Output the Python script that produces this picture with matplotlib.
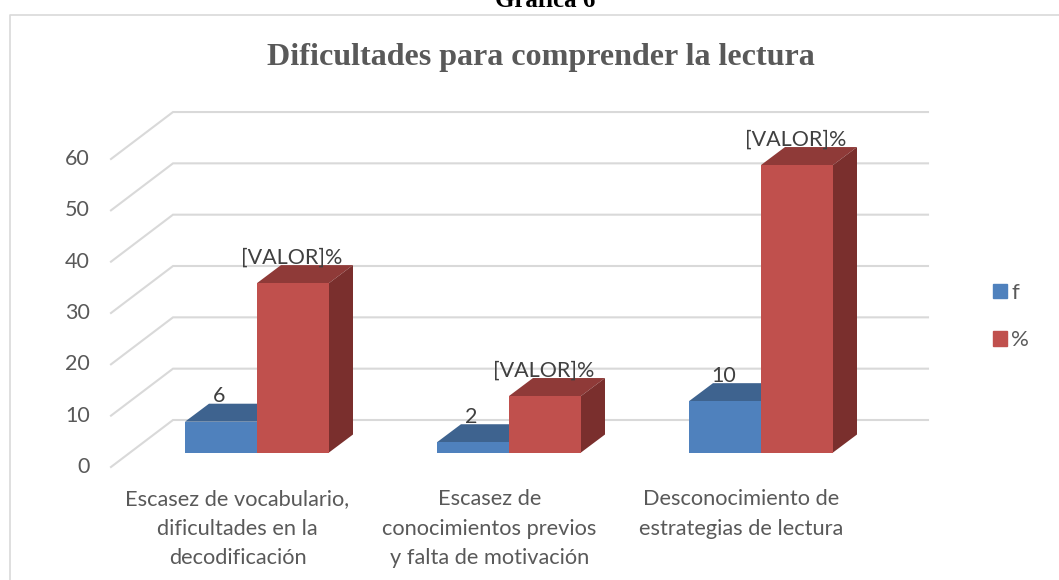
import matplotlib
matplotlib.use("Agg")
import matplotlib.pyplot as plt
from matplotlib.patches import Polygon, Patch

categories = ["Escasez de vocabulario,\ndificultades en la\ndecodificación",
              "Escasez de\nconocimientos previos\ny falta de motivación",
              "Desconocimiento de\nestrategias de lectura"]
f_values = [6, 2, 10]
pct_values = [33, 11, 56]
y_ticks = [0, 10, 20, 30, 40, 50, 60]
series_labels = ["f", "%"]
f_text = ["6", "2", "10"]
pct_text = ["[VALOR]%", "[VALOR]%", "[VALOR]%"]

W, H = 1059, 580
X0, X_STEP = 257, 252      # pixel of category 0, pixels per category
Y0, Y_STEP = 452.5, 5.133  # pixel of value 0 at bar front, pixels per unit


def px_x(p):
    return (p - X0) / X_STEP


def px_y(p):
    return (Y0 - p) / Y_STEP


BAR_W = 72 / X_STEP
DX, DY = 24 / X_STEP, 18 / Y_STEP  # bar depth

plt.rcParams["font.family"] = ["Lato", "DejaVu Sans"]
fig = plt.figure(figsize=(W / 100, H / 100), dpi=100)
ax = fig.add_axes([0, 0, 1, 1])
ax.set_xlim(px_x(0), px_x(W))
ax.set_ylim(px_y(H), px_y(0))
ax.axis("off")

# chart frame, cut by the page on the right and bottom
frame = "#D9D9D9"
ax.plot([9.5 / W, 9.5 / W, 1], [0, 1 - 14.5 / H, 1 - 14.5 / H], transform=ax.transAxes,
        color=frame, lw=1.2, clip_on=False)

# back wall and floor lines
grid = "#D9D9D9"
for v in y_ticks:
    back_y = px_y(420) + v
    front_y = px_y(467) + v
    ax.plot([px_x(111), px_x(173), px_x(928)], [front_y, back_y, back_y],
            color=grid, lw=1.5, zorder=1, solid_joinstyle="miter")
    ax.text(px_x(90), px_y(467) + v, str(v), ha="right", va="center",
            fontsize=15.5, color="#595959")


def draw_bars(values, left_offset, front, top, side, z):
    xs = [i + left_offset for i in range(len(values))]
    ax.bar(xs, values, width=BAR_W, align="edge", color=front, zorder=z + 1)
    for x, v in zip(xs, values):
        ax.add_patch(Polygon([(x, v), (x + DX, v + DY), (x + BAR_W + DX, v + DY), (x + BAR_W, v)],
                             closed=True, facecolor=top, edgecolor="none", zorder=z))
        ax.add_patch(Polygon([(x + BAR_W, 0), (x + BAR_W + DX, DY), (x + BAR_W + DX, v + DY), (x + BAR_W, v)],
                             closed=True, facecolor=side, edgecolor="none", zorder=z))


draw_bars(f_values, -BAR_W, "#4F81BD", "#3E638F", "#345578", 3)
draw_bars(pct_values, 0, "#C0504D", "#8F3A38", "#7A2F2D", 5)

# data labels
for i in range(len(categories)):
    ax.text(i - BAR_W / 2 - 1.5 / X_STEP, f_values[i] + 5.0, f_text[i], ha="center", va="center",
            fontsize=15.5, color="#404040", zorder=8)
    ax.text(i + BAR_W / 2 - 1.5 / X_STEP, pct_values[i] + 4.9, pct_text[i], ha="center", va="center",
            fontsize=15.5, color="#404040", zorder=8)

# category labels
for i, label in enumerate(categories):
    ax.text(i + px_x(237.5) - px_x(257), px_y(489), label, ha="center", va="top",
            fontsize=15.7, color="#595959", linespacing=1.6)

ax.text(px_x(541), px_y(58), "Dificultades para comprender la lectura", ha="center", va="center",
        fontsize=23.1, fontweight="bold", family="Liberation Serif", color="#595959")
ax.text(px_x(545), px_y(7), "Gráfica 6", ha="center", va="baseline",
        fontsize=18, fontweight="bold", family="Liberation Serif", color="black")

handles = [Patch(color="#4F81BD"), Patch(color="#C0504D")]
leg = ax.legend(handles, series_labels, loc="center left", frameon=False,
                bbox_to_anchor=(993 / W, 1 - 316.5 / H), fontsize=16, labelcolor="#595959",
                handlelength=0.63, handleheight=0.63, handletextpad=0.2, labelspacing=1.25,
                borderpad=0, borderaxespad=0)

fig.savefig("out.png", dpi=100)
plt.close(fig)
